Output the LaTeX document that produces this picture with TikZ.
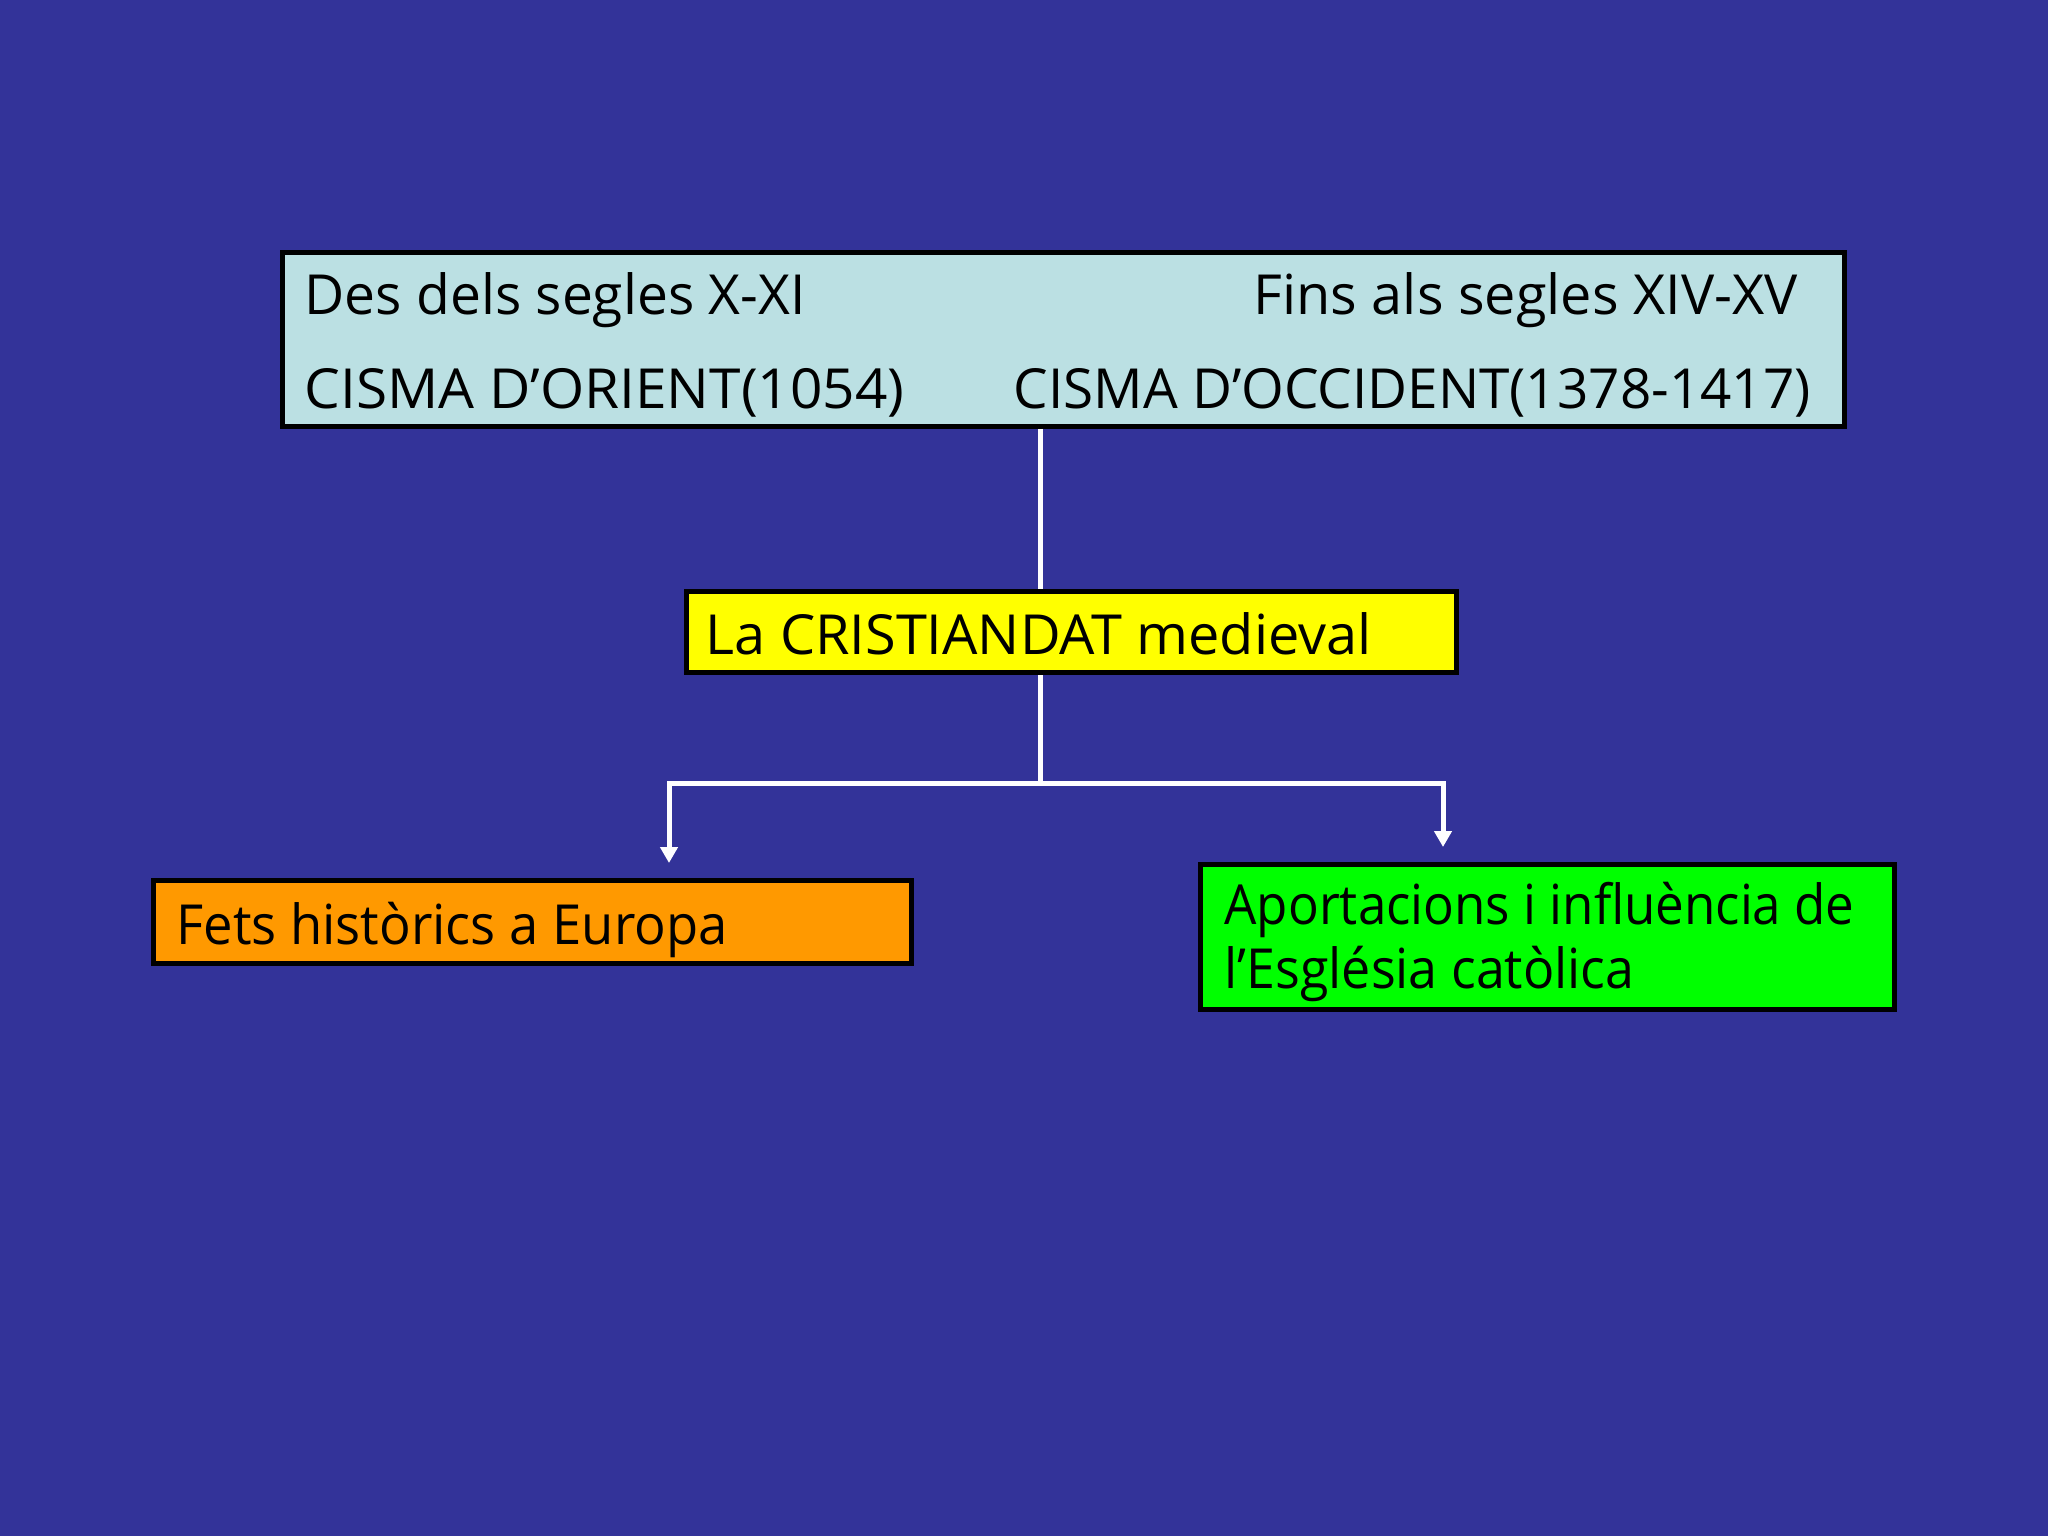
\documentclass[tikz,border=0pt]{standalone}
\usepackage{fontspec}
\setmainfont{Open Sans}
\usepackage{graphicx}
\usetikzlibrary{arrows.meta}
\newlength\pxu
\setlength\pxu{0.0124023cm}
\newcommand{\fitw}[2]{\resizebox{#1\pxu}{\height}{#2}}
\definecolor{bgblue}{RGB}{51,51,153}
\definecolor{topblue}{RGB}{187,224,227}
\definecolor{yel}{RGB}{255,255,0}
\definecolor{org}{RGB}{255,153,0}
\definecolor{grn}{RGB}{0,255,0}
\tikzset{
  box/.style={draw=black, line width=1.76pt, inner sep=0pt, rectangle},
  txt/.style={inner sep=0pt, anchor=base west, text=black, font=\fontsize{19.5pt}{24pt}\selectfont},
  conn/.style={draw=white, line width=1.76pt},
  arr/.style={conn, -{Triangle[length=5.6pt, width=6pt]}},
}
\begin{document}
\begin{tikzpicture}[x=0.0124023cm, y=-0.0124023cm]
\fill[bgblue] (0,0) rectangle (2048,1536);
\useasboundingbox (0,0) rectangle (2048,1536);

\node[box, fill=topblue, minimum width=19.373cm, minimum height=2.158cm] (top) at (1063.5,339.5) {};
\node[box, fill=yel, minimum width=9.550cm, minimum height=1.005cm] (mid) at (1071.5,632) {};
\node[box, fill=org, minimum width=9.401cm, minimum height=1.029cm] (left) at (532.5,922) {};
\node[box, fill=grn, minimum width=8.607cm, minimum height=1.798cm] (right) at (1547.5,937) {};

\node[txt] (t1) at (304,314) {\fitw{501}{Des dels segles X-XI}};
\node[txt] (t2) at (1253,314) {\fitw{544}{Fins als segles XIV-XV}};
\node[txt] (t3) at (304,408) {\fitw{600}{CISMA D’ORIENT(1054)}};
\node[txt] (t4) at (1013,408) {\fitw{797}{CISMA D’OCCIDENT(1378-1417)}};
\node[txt] (t5) at (705,654) {\fitw{666}{La CRISTIANDAT medieval}};
\node[txt] (t6) at (176,944) {\fitw{551}{Fets històrics a Europa}};
\node[txt] (t7) at (1224,924) {\fitw{630}{Aportacions i influència de}};
\node[txt] (t8) at (1224,988) {\fitw{410}{l’Església catòlica}};

\coordinate (j) at (1040,783);
\coordinate (lt) at (669,863);
\coordinate (rt) at (1443,847);
\draw[conn] (top.south -| j) -- (mid.north -| j);
\draw[conn] (mid.south -| j) -- (j);
\draw[arr] (j) -| (lt);
\draw[arr] (j) -| (rt);
\end{tikzpicture}
\end{document}
